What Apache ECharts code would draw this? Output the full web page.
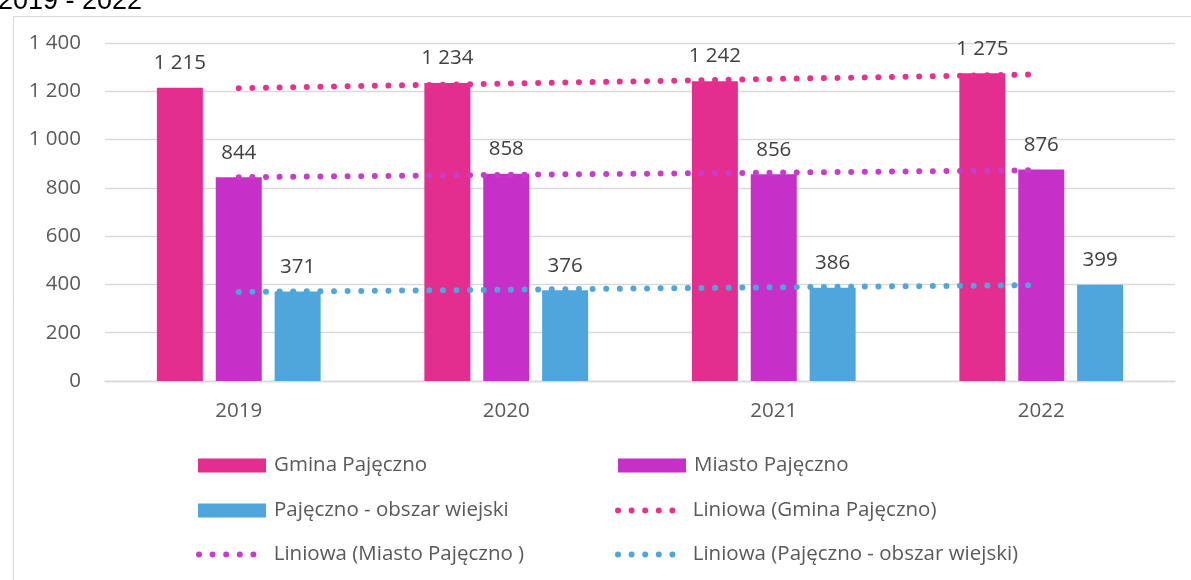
<!DOCTYPE html>
<html>
<head>
<meta charset="utf-8">
<script src="https://cdn.jsdelivr.net/npm/echarts@6/dist/echarts.min.js"></script>
<style>html,body{margin:0;padding:0;background:#fff}#c{width:1191px;height:580px}</style>
</head>
<body>
<div id="c"></div>
<script>
const categories = ['2019', '2020', '2021', '2022'];
const gmina = [1215, 1234, 1242, 1275];
const miasto = [844, 858, 856, 876];
const wiejski = [371, 376, 386, 399];
// trendline values
const trendGmina = [1213, 1232, 1251, 1270];
const trendMiasto = [844, 854, 863, 873];
const trendWiejski = [369, 378, 388, 397];
const yTicks = [0, 200, 400, 600, 800, 1000, 1200, 1400];

const names = ['Gmina Pajęczno', 'Miasto Pajęczno', 'Pajęczno - obszar wiejski',
  'Liniowa (Gmina Pajęczno)', 'Liniowa (Miasto Pajęczno )', 'Liniowa (Pajęczno - obszar wiejski)'];
const colors = ['#E32D8F', '#C630C8', '#4FA6DC'];
const FONT = '"Open Sans", sans-serif';
const FS = 20.5;
const fmt = v => String(v).replace(/\B(?=(\d{3})+(?!\d))/g, ' ');

const dotsPath = 'path://' + [0, 1, 2, 3, 4].map(i => {
  const cx = 3 + i * 13.6;
  return 'M' + (cx - 3) + ',3a3,3 0 1,0 6,0a3,3 0 1,0 -6,0Z';
}).join('');

function barSeries(name, data, color) {
  return {
    name, type: 'bar', data, barWidth: 46, barGap: '28%',
    itemStyle: { color },
    label: { show: true, position: 'top', distance: 14, formatter: p => fmt(p.value),
      fontFamily: FONT, fontSize: FS, color: '#404040' }
  };
}
function trendSeries(name, data, color) {
  return {
    name, type: 'line', data, symbol: 'none', silent: true, z: 5,
    itemStyle: { color },
    lineStyle: { color, width: 6, type: [0.01, 13.6], cap: 'round' }
  };
}
function legendItem(name, left, top, dotted) {
  return {
    data: [{ name, icon: dotted ? dotsPath : 'rect' }],
    left, top, padding: 0, itemWidth: dotted ? 61 : 68, itemHeight: dotted ? 6 : 14,
    selectedMode: false,
    textStyle: { fontFamily: FONT, fontSize: FS, color: '#595959',
      padding: [0, 0, 0, dotted ? 12 : 3] }
  };
}

const chart = echarts.init(document.getElementById('c'), null, { renderer: 'canvas' });
chart.setOption({
  animation: false,
  title: { text: '2019 - 2022', left: -2, top: -12, padding: 0,
    textStyle: { fontFamily: '"Liberation Sans", Arial, sans-serif', fontSize: 27, fontWeight: 'normal', color: '#000' } },
  graphic: [{ type: 'rect', left: 11, top: 14, shape: { width: 1300, height: 700 },
    style: { fill: 'none', stroke: '#d9d9d9', lineWidth: 1 }, silent: true }],
  grid: { left: 105, right: 16, top: 43, bottom: 199 },
  xAxis: { type: 'category', data: categories,
    axisLine: { lineStyle: { color: '#d9d9d9', width: 1.3 } }, axisTick: { show: false },
    axisLabel: { fontFamily: FONT, fontSize: FS, color: '#595959', margin: 20 } },
  yAxis: { type: 'value', min: yTicks[0], max: yTicks[yTicks.length - 1], interval: 200,
    axisLine: { show: false }, axisTick: { show: false },
    splitLine: { lineStyle: { color: '#d9d9d9', width: 1.3 } },
    axisLabel: { fontFamily: FONT, fontSize: FS, color: '#595959', margin: 24, formatter: v => fmt(v) } },
  legend: [
    legendItem(names[0], 198, 455, false),
    legendItem(names[1], 618, 455, false),
    legendItem(names[2], 198, 500, false),
    legendItem(names[3], 615, 500, true),
    legendItem(names[4], 196, 544, true),
    legendItem(names[5], 615, 544, true)
  ],
  series: [
    barSeries(names[0], gmina, colors[0]),
    barSeries(names[1], miasto, colors[1]),
    barSeries(names[2], wiejski, colors[2]),
    trendSeries(names[3], trendGmina, '#E8318F'),
    trendSeries(names[4], trendMiasto, '#C93BCC'),
    trendSeries(names[5], trendWiejski, '#4FA6DC')
  ]
});
</script>
</body>
</html>
